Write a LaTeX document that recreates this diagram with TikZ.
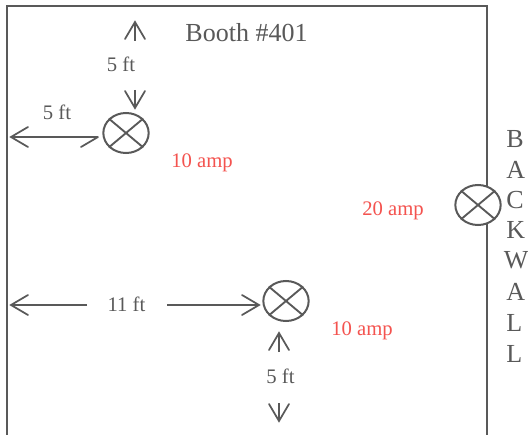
\documentclass[tikz,border=0pt]{standalone}
\usepackage{fontspec}
\setmainfont{Liberation Serif}
\usetikzlibrary{shapes.geometric}
\definecolor{ink}{HTML}{595959}
\definecolor{amp}{HTML}{F4534F}
\tikzset{
  lamp/.style={draw=ink,line width=1.5pt,fill=white,ellipse,minimum width=34pt,minimum height=30pt,inner sep=0pt},
  wallline/.style={draw=ink,line width=1.7pt},
  crossline/.style={draw=ink,line width=1.4pt},
  dim/.style={draw=ink,line width=1.3pt},
  barb/.style={draw=ink,line width=1.3pt,line join=miter,line cap=round},
  lab/.style={text=ink,font=\fontsize{15.5pt}{15.5pt}\selectfont,anchor=base,inner sep=0pt},
  amplab/.style={text=amp,font=\fontsize{15.5pt}{15.5pt}\selectfont,anchor=base,inner sep=0pt},
  big/.style={text=ink,font=\fontsize{19.5pt}{19.5pt}\selectfont,anchor=base,inner sep=0pt},
  wallletter/.style={text=ink,font=\fontsize{19.5pt}{19.5pt}\selectfont,anchor=base west,inner sep=0pt}
}
\newcommand{\crossit}[1]{%
  \draw[crossline] (#1.40) -- (#1.220);
  \draw[crossline] (#1.140) -- (#1.320);
}
% shaft from #1 to tip #2, with barbs offset by (#3,#4) and its mirror image
\newcommand{\dimarrow}[4]{%
  \draw[dim] (#1) -- (#2);
  \draw[barb] ([shift={(#3,#4)}]#2) -- (#2) -- ([shift={(#3+2*#4*0,-#4)}]#2);
}
\newcommand{\dimarrowv}[4]{%
  \draw[dim] (#1) -- (#2);
  \draw[barb] ([shift={(#3,#4)}]#2) -- (#2) -- ([shift={(-#3,#4)}]#2);
}
\begin{document}
\begin{tikzpicture}[x=.75pt,y=-.75pt]
\useasboundingbox (0,0) rectangle (528,435);
\fill[white] (0,0) rectangle (528,435);
\draw[wallline] (7,435) -- (7,6) -- (487,6) -- (487,435);

\node[lamp] (la) at (126,133) {};
\node[lamp] (lb) at (478,205) {};
\node[lamp] (lc) at (286,301) {};
\crossit{la}\crossit{lb}\crossit{lc}

\node[big] (title) at (246.5,42) {Booth \#401};
\node[lab] (ta) at (121,71) {5 ft};
\node[lab] (tb) at (57,119) {5 ft};
\node[lab] (tc) at (126.5,311) {11 ft};
\node[lab] (td) at (280.5,383) {5 ft};
\node[amplab] (aa) at (202,167) {10 amp};
\node[amplab] (ab) at (393,215) {20 amp};
\node[amplab] (ac) at (362,335) {10 amp};

\node[wallletter] (w1) at (506,147) {B};
\node[wallletter] (w2) at (506,178) {A};
\node[wallletter] (w3) at (506,208) {C};
\node[wallletter] (w4) at (506,238) {K};
\node[wallletter] (w5) at (503.5,268) {W};
\node[wallletter] (w6) at (506,300) {A};
\node[wallletter] (w7) at (506,331) {L};
\node[wallletter] (w8) at (506,362) {L};

\coordinate (u1s) at (135,41);  \coordinate (u1e) at (135,22);
\coordinate (d1s) at (135,90);  \coordinate (d1e) at (135,108);
\coordinate (l1s) at (98,137);  \coordinate (l1e) at (11,137);
\coordinate (t1)  at (81,147);
\coordinate (l2s) at (87,305);  \coordinate (l2e) at (11,305);
\coordinate (r2s) at (167,305); \coordinate (r2e) at (259,305);
\coordinate (u3s) at (279,352); \coordinate (u3e) at (279,333);
\coordinate (d3s) at (279,403); \coordinate (d3e) at (279,421);

\dimarrowv{u1s}{u1e}{10}{17}
\dimarrowv{d1s}{d1e}{10}{-17}
\dimarrow{l1s}{l1e}{17}{10}
\draw[barb] (t1) -- (l1s);
\dimarrow{l2s}{l2e}{17}{10}
\dimarrow{r2s}{r2e}{-17}{10}
\dimarrowv{u3s}{u3e}{10}{17}
\dimarrowv{d3s}{d3e}{10}{-17}
\end{tikzpicture}
\end{document}
